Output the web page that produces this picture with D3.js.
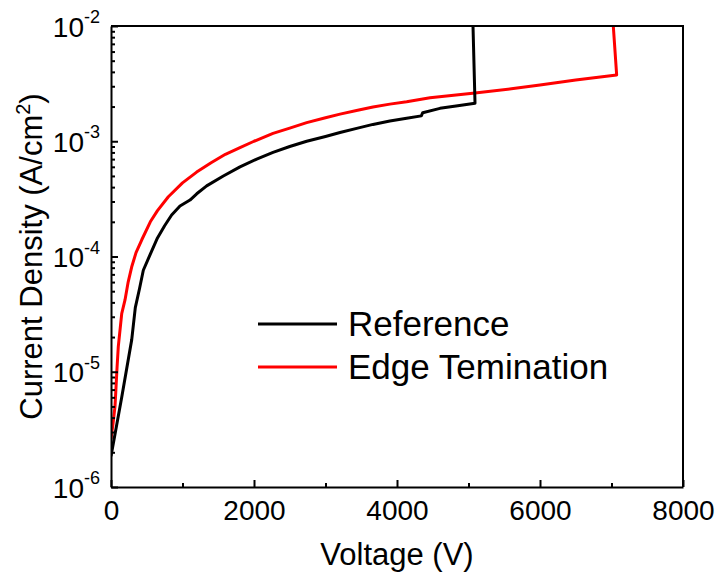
<!DOCTYPE html>
<html>
<head>
<meta charset="utf-8">
<script src="https://cdn.jsdelivr.net/npm/d3@7"></script>
<style>
  body { margin: 0; background: #fff; }
  svg text { font-family: "Liberation Sans", Arial, sans-serif; fill: #000; }
</style>
</head>
<body>
<div class="chart"></div>
<script>
// series names
var seriesNames = ["Reference", "Edge Temination"];
var seriesColors = ["#000000", "#ff0000"];

// Reference device: voltage (V) and current density (A/cm2)
var refVoltage = [0, 150, 290, 340, 400, 452, 550, 650, 750, 848, 965, 1105, 1199, 1338, 1571, 1804, 2038, 2266, 2500, 2737, 3000, 3203, 3450, 3664, 3900, 4135, 4340, 4360, 4601, 4850, 5091, 5063];
var refCurrent = [1.85e-6, 6e-6, 1.9e-5, 3.6e-5, 5.3e-5, 7.6e-5, 1.05e-4, 1.45e-4, 1.85e-4, 2.29e-4, 2.74e-4, 3.09e-4, 3.5e-4, 4.1e-4, 5.0e-4, 6.0e-4, 7.0e-4, 8.0e-4, 9.0e-4, 1.0e-3, 1.1e-3, 1.19e-3, 1.3e-3, 1.4e-3, 1.5e-3, 1.58e-3, 1.66e-3, 1.77e-3, 1.93e-3, 2.03e-3, 2.14e-3, 1e-2];

// Edge termination device
var etVoltage = [0, 30, 56, 85, 102, 150, 196, 240, 289, 350, 429, 550, 650, 802, 1000, 1198, 1400, 1600, 1804, 2000, 2266, 2500, 2737, 3000, 3203, 3450, 3664, 3900, 4135, 4462, 5091, 5600, 6000, 6500, 7072, 7025];
var etCurrent = [2.6e-6, 3.6e-6, 5e-6, 1.1e-5, 1.65e-5, 3.2e-5, 4.2e-5, 6e-5, 8.1e-5, 1.08e-4, 1.39e-4, 2e-4, 2.5e-4, 3.3e-4, 4.35e-4, 5.4e-4, 6.5e-4, 7.7e-4, 8.8e-4, 1.0e-3, 1.17e-3, 1.3e-3, 1.45e-3, 1.6e-3, 1.72e-3, 1.86e-3, 1.98e-3, 2.1e-3, 2.2e-3, 2.38e-3, 2.62e-3, 2.85e-3, 3.08e-3, 3.4e-3, 3.76e-3, 1e-2];

// ticks
var xTicks = [0, 2000, 4000, 6000, 8000];
var xMinorTicks = [1000, 3000, 5000, 7000];
var yExponents = [-6, -5, -4, -3, -2];

var svgWidth = 716, svgHeight = 572;
var margin = {top: 26, right: 33, bottom: 85, left: 111};
var width = svgWidth - margin.left - margin.right;
var height = svgHeight - margin.top - margin.bottom;

var svg = d3.select(".chart").append("svg")
  .attr("width", svgWidth)
  .attr("height", svgHeight);

var chartGroup = svg.append("g")
  .attr("transform", `translate(${margin.left},${margin.top})`);

var xScale = d3.scaleLinear().domain([0, 8000]).range([0, width]);
var yScale = d3.scaleLog().domain([1e-6, 1e-2]).range([height, 0]);

// minor y ticks 2..9 for every decade
var yMinorTicks = [];
yExponents.slice(0, -1).forEach(function(e) {
  for (var m = 2; m <= 9; m++) yMinorTicks.push(m * Math.pow(10, e));
});

chartGroup.append("clipPath").attr("id", "plotClip")
  .append("rect").attr("width", width).attr("height", height);

// lines
var line = d3.line()
  .x(d => xScale(d[0]))
  .y(d => yScale(d[1]));

var series = [
  d3.zip(refVoltage, refCurrent),
  d3.zip(etVoltage, etCurrent)
];

// red drawn first so black lies on top where they meet
[1, 0].forEach(function(i) {
  chartGroup.append("path")
    .datum(series[i])
    .attr("clip-path", "url(#plotClip)")
    .attr("d", line)
    .attr("fill", "none")
    .attr("stroke", seriesColors[i])
    .attr("stroke-width", 3)
    .attr("stroke-linejoin", "round");
});

// x axis
var xAxis = d3.axisBottom(xScale).tickValues(xTicks).tickSize(-7).tickSizeOuter(0)
  .tickPadding(13).tickFormat(d3.format("d"));
var xg = chartGroup.append("g").attr("transform", `translate(0,${height})`).call(xAxis);
xg.selectAll("text").style("font-size", "28px").attr("dy", "0.71em");
chartGroup.append("g").attr("transform", `translate(0,${height})`)
  .call(d3.axisBottom(xScale).tickValues(xMinorTicks).tickSize(-4).tickSizeOuter(0).tickFormat(""))
  .select(".domain").remove();

// y axis
var yAxis = d3.axisLeft(yScale).tickValues(yExponents.map(e => Math.pow(10, e)))
  .tickSize(-7).tickSizeOuter(0).tickPadding(11).tickFormat("");
var yg = chartGroup.append("g").call(yAxis);
chartGroup.append("g")
  .call(d3.axisLeft(yScale).tickValues(yMinorTicks).tickSize(-4).tickSizeOuter(0).tickFormat(""))
  .select(".domain").remove();

yg.selectAll(".tick").each(function(d) {
  var t = d3.select(this).select("text")
    .attr("text-anchor", "end")
    .attr("dy", "0.36em")
    .style("font-size", "28px");
  t.append("tspan").text("10");
  t.append("tspan").text("-" + Math.round(-Math.log10(d)))
    .style("font-size", "18px")
    .attr("dy", "-0.75em");
});

chartGroup.selectAll(".domain, .tick line")
  .attr("stroke", "#000").attr("stroke-width", 2);

// frame top and right
chartGroup.append("path")
  .attr("d", `M0,0H${width}V${height}`)
  .attr("fill", "none").attr("stroke", "#000").attr("stroke-width", 2);

// axis titles
svg.append("text")
  .attr("x", margin.left + width / 2)
  .attr("y", 565)
  .attr("text-anchor", "middle")
  .style("font-size", "31px")
  .text("Voltage (V)");

var yTitle = svg.append("text")
  .attr("transform", `translate(42,${margin.top + height / 2}) rotate(-90)`)
  .attr("text-anchor", "middle")
  .style("font-size", "31px");
yTitle.append("tspan").text("Current Density (A/cm");
yTitle.append("tspan").text("2").style("font-size", "20px").attr("dy", "-0.6em");
yTitle.append("tspan").text(")").attr("dy", "0.4em");

// legend
var legend = svg.append("g");
seriesNames.forEach(function(name, i) {
  var y = 324 + i * 43;
  legend.append("line")
    .attr("x1", 258).attr("x2", 337)
    .attr("y1", y).attr("y2", y)
    .attr("stroke", seriesColors[i]).attr("stroke-width", 3);
  legend.append("text")
    .attr("x", 348).attr("y", y)
    .attr("dy", "0.35em")
    .style("font-size", "35px")
    .text(name);
});
</script>
</body>
</html>
